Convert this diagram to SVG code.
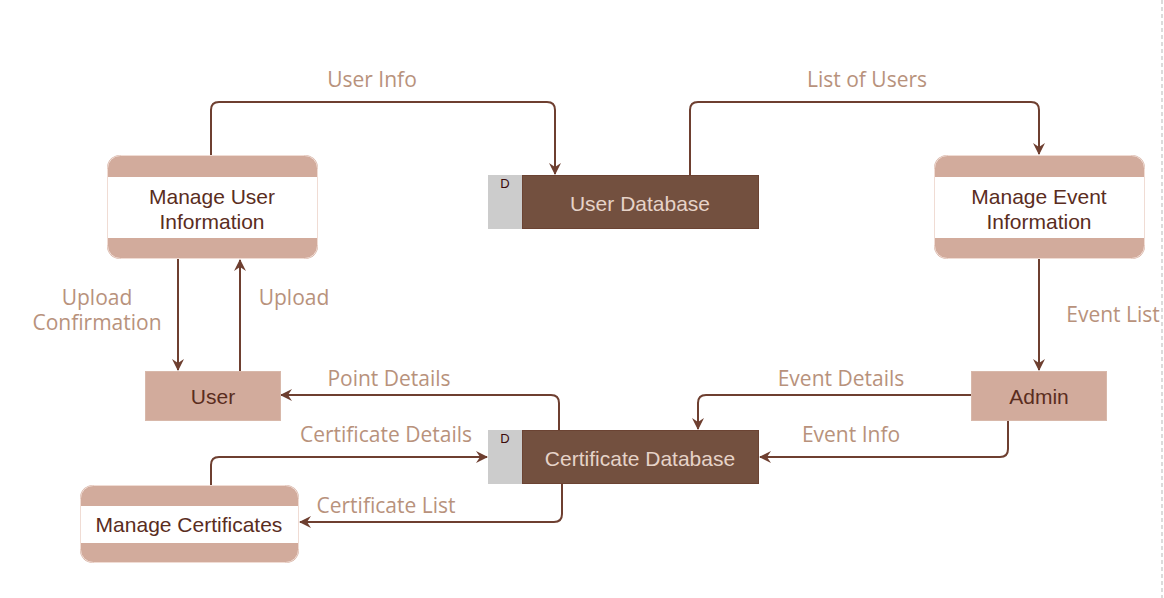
<svg xmlns="http://www.w3.org/2000/svg" width="1164" height="598" viewBox="0 0 1164 598">
<style>
.conn{fill:none;stroke:#6e3f30;stroke-width:2;stroke-linejoin:round}
.lbl{font-family:"Open Sans",sans-serif;font-size:21px;fill:#b8927c;text-anchor:middle}
.ntx{font-family:"Liberation Sans",Arial,sans-serif;font-size:21px;fill:#5a2d1e;text-anchor:middle}
.dbtx{font-family:"Liberation Sans",Arial,sans-serif;font-size:21px;fill:#e6d3c8;text-anchor:middle}
.band{fill:#d2ab9c}
.ent{fill:#d2ab9c;stroke:#d8b8aa;stroke-width:1}
.dbg{fill:#cccccc}
.dbb{fill:#73503f;stroke:#6b4333;stroke-width:1}
.dl{font-family:"Liberation Sans",Arial,sans-serif;font-size:13px;fill:#3a0a0a;text-anchor:middle}
</style>
<defs>
<marker id="arr" viewBox="0 0 12 12" refX="11" refY="6" markerWidth="12" markerHeight="12" markerUnits="userSpaceOnUse" orient="auto">
<path d="M0,0 L12,6 L0,12 L4,6 z" fill="#6e3f30"/>
</marker>
<clipPath id="c1"><rect x="107" y="155" width="211" height="104" rx="13"/></clipPath>
<clipPath id="c2"><rect x="934" y="155" width="211" height="104" rx="13"/></clipPath>
<clipPath id="c3"><rect x="80" y="485" width="219" height="78" rx="13"/></clipPath>
</defs>
<rect width="1164" height="598" fill="#ffffff"/>
<line x1="1162" y1="0" x2="1162" y2="598" stroke="#d0d0d0" stroke-width="1.5" stroke-dasharray="4,3"/>

<g id="connectors">
<path class="conn" marker-end="url(#arr)" d="M211,155 V110 Q211,102 219,102 H547 Q555,102 555,110 V174"/>
<path class="conn" marker-end="url(#arr)" d="M690,175 V110 Q690,102 698,102 H1031 Q1039,102 1039,110 V154"/>
<path class="conn" marker-end="url(#arr)" d="M178,259 V370"/>
<path class="conn" marker-end="url(#arr)" d="M240,371 V260"/>
<path class="conn" marker-end="url(#arr)" d="M1039,259 V370"/>
<path class="conn" marker-end="url(#arr)" d="M559,430 V403 Q559,395 551,395 H281"/>
<path class="conn" marker-end="url(#arr)" d="M971,395 H706 Q698,395 698,403 V429"/>
<path class="conn" marker-end="url(#arr)" d="M1008,420 V449 Q1008,457 1000,457 H760"/>
<path class="conn" marker-end="url(#arr)" d="M211,485 V465 Q211,457 219,457 H487"/>
<path class="conn" marker-end="url(#arr)" d="M562,484 V514 Q562,522 554,522 H300"/>
<text class="lbl" x="372" y="87">User Info</text>
<text class="lbl" x="867" y="87">List of Users</text>
<text class="lbl" x="97" y="305">Upload</text>
<text class="lbl" x="97" y="330">Confirmation</text>
<text class="lbl" x="294" y="305">Upload</text>
<text class="lbl" x="1113" y="322">Event List</text>
<text class="lbl" x="389" y="386">Point Details</text>
<text class="lbl" x="841" y="386">Event Details</text>
<text class="lbl" x="386" y="442">Certificate Details</text>
<text class="lbl" x="851" y="442">Event Info</text>
<text class="lbl" x="386" y="513">Certificate List</text>
</g>

<g id="manage-user-information">
<g clip-path="url(#c1)">
<rect x="107" y="155" width="211" height="104" fill="#ffffff"/>
<rect class="band" x="107" y="155" width="211" height="22"/>
<rect class="band" x="107" y="238" width="211" height="21"/>
</g>
<rect x="107.5" y="155.5" width="210" height="103" rx="13" fill="none" stroke="#f0dcd4" stroke-width="1"/>
<text class="ntx" x="212" y="204">Manage User</text>
<text class="ntx" x="212" y="229">Information</text>
</g>

<g id="user-database">
<rect class="dbg" x="488" y="175" width="34" height="54"/>
<rect class="dbb" x="522.5" y="175.5" width="236" height="53"/>
<text class="dl" x="505" y="188">D</text>
<text class="dbtx" x="640" y="211">User Database</text>
</g>

<g id="manage-event-information">
<g clip-path="url(#c2)">
<rect x="934" y="155" width="211" height="104" fill="#ffffff"/>
<rect class="band" x="934" y="155" width="211" height="22"/>
<rect class="band" x="934" y="238" width="211" height="21"/>
</g>
<rect x="934.5" y="155.5" width="210" height="103" rx="13" fill="none" stroke="#f0dcd4" stroke-width="1"/>
<text class="ntx" x="1039" y="204">Manage Event</text>
<text class="ntx" x="1039" y="229">Information</text>
</g>

<g id="user">
<rect class="ent" x="145.5" y="371.5" width="135" height="49"/>
<text class="ntx" x="213" y="404">User</text>
</g>

<g id="admin">
<rect class="ent" x="971.5" y="371.5" width="135" height="49"/>
<text class="ntx" x="1039" y="404">Admin</text>
</g>

<g id="certificate-database">
<rect class="dbg" x="488" y="430" width="34" height="54"/>
<rect class="dbb" x="522.5" y="430.5" width="236" height="53"/>
<text class="dl" x="505" y="443">D</text>
<text class="dbtx" x="640" y="466">Certificate Database</text>
</g>

<g id="manage-certificates">
<g clip-path="url(#c3)">
<rect x="80" y="485" width="219" height="78" fill="#ffffff"/>
<rect class="band" x="80" y="485" width="219" height="21"/>
<rect class="band" x="80" y="543" width="219" height="20"/>
</g>
<rect x="80.5" y="485.5" width="218" height="77" rx="13" fill="none" stroke="#f0dcd4" stroke-width="1"/>
<text class="ntx" x="189" y="532">Manage Certificates</text>
</g>
</svg>
